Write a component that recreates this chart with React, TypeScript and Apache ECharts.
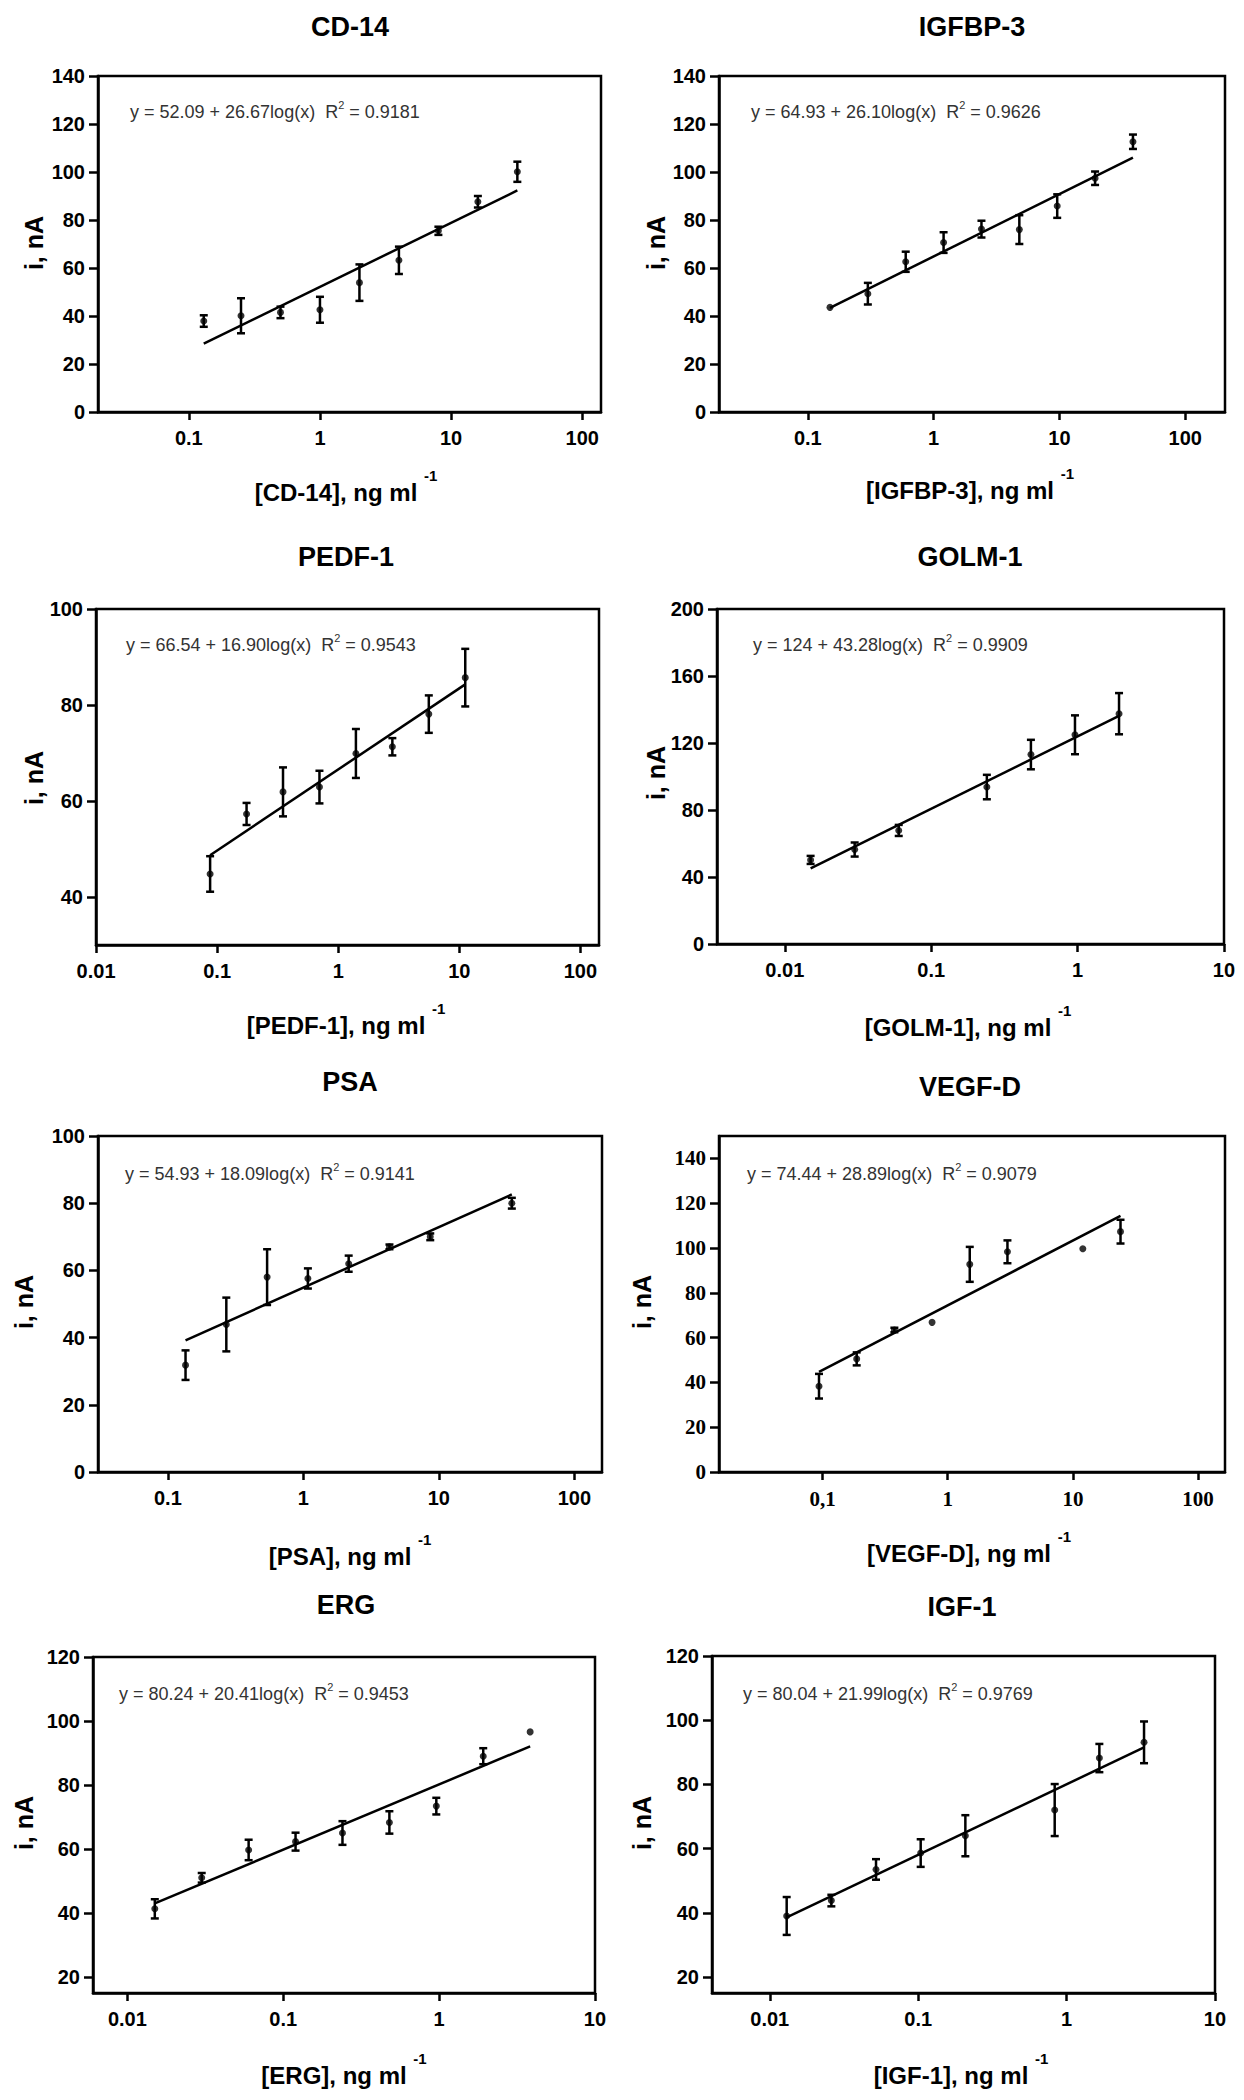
import React, { useEffect, useRef } from "react";
import * as echarts from "echarts";

// ---------------- data ----------------
// CD-14
const cd14Conc = [0.13, 0.25, 0.5, 1, 2, 4, 8, 16, 32];
const cd14Current = [37.9, 40.1, 41.5, 42.6, 53.9, 63.2, 75.5, 87.6, 100.1];
const cd14Sd = [2.4, 7.3, 2.4, 5.4, 7.6, 5.7, 1.7, 2.4, 4.2];
const cd14Fit = [28.5, 92.3];
// IGFBP-3
const igfbpConc = [0.15, 0.3, 0.6, 1.2, 2.4, 4.8, 9.6, 19.2, 38.4];
const igfbpCurrent = [43.6, 49.3, 62.6, 70.6, 76.2, 76.0, 85.8, 97.4, 112.6];
const igfbpSd = [0, 4.5, 4.2, 4.3, 3.5, 6.0, 4.9, 2.8, 3.0];
const igfbpFit = [43.4, 106.0];
// PEDF-1
const pedfConc = [0.0875, 0.175, 0.35, 0.7, 1.4, 2.8, 5.6, 11.2];
const pedfCurrent = [44.8, 57.3, 61.9, 62.9, 69.9, 71.3, 78.1, 85.7];
const pedfSd = [3.7, 2.3, 5.1, 3.4, 5.1, 1.8, 3.9, 6.0];
const pedfFit = [48.7, 84.3];
// GOLM-1
const golmConc = [0.015, 0.03, 0.06, 0.24, 0.48, 0.96, 1.92];
const golmCurrent = [50.2, 56.4, 67.8, 93.7, 113.1, 124.9, 137.5];
const golmSd = [2.4, 4.2, 3.3, 7.3, 8.8, 11.6, 12.3];
const golmFit = [45.1, 136.2];
// PSA
const psaConc = [0.135, 0.27, 0.54, 1.08, 2.16, 4.32, 8.64, 34.56];
const psaCurrent = [31.8, 43.9, 58.0, 57.6, 62.0, 67.0, 70.0, 80.0];
const psaSd = [4.4, 8.0, 8.3, 3.0, 2.4, 0.7, 1.0, 1.6];
const psaFit = [39.2, 82.6];
// VEGF-D
const vegfConc = [0.09375, 0.1875, 0.375, 0.75, 1.5, 3, 12, 24];
const vegfCurrent = [38.3, 50.5, 63.4, 66.8, 92.7, 98.3, 99.7, 107.3];
const vegfSd = [5.5, 2.9, 1.0, 0, 7.8, 5.1, 0, 5.3];
const vegfFit = [44.7, 114.3];
// ERG
const ergConc = [0.015, 0.03, 0.06, 0.12, 0.24, 0.48, 0.96, 1.92, 3.84];
const ergCurrent = [41.3, 51.0, 59.7, 62.3, 65.0, 68.3, 73.4, 89.0, 96.6];
const ergSd = [3.0, 1.5, 3.2, 2.8, 3.7, 3.5, 2.6, 2.5, 0];
const ergFit = [43.0, 92.1];
// IGF-1
const igf1Conc = [0.013, 0.026, 0.052, 0.104, 0.208, 0.832, 1.664, 3.328];
const igf1Current = [39.0, 43.8, 53.5, 58.6, 64.0, 72.0, 88.2, 93.1];
const igf1Sd = [5.9, 1.8, 3.2, 4.3, 6.4, 8.1, 4.4, 6.5];
const igf1Fit = [38.6, 91.5];

// tick values and labels
const xTicksTenth = [0.1, 1, 10, 100];
const xLabelsTenth = ["0.1", "1", "10", "100"];
const xLabelsTenthComma = ["0,1", "1", "10", "100"];
const xTicksHundredthTo100 = [0.01, 0.1, 1, 10, 100];
const xLabelsHundredthTo100 = ["0.01", "0.1", "1", "10", "100"];
const xTicksHundredthTo10 = [0.01, 0.1, 1, 10];
const xLabelsHundredthTo10 = ["0.01", "0.1", "1", "10"];
const yTicks0to140 = [0, 20, 40, 60, 80, 100, 120, 140];
const yTicks40to100 = [40, 60, 80, 100];
const yTicks0to200 = [0, 40, 80, 120, 160, 200];
const yTicks0to100 = [0, 20, 40, 60, 80, 100];
const yTicks20to120 = [20, 40, 60, 80, 100, 120];

// equations
const cd14Eq = ["y = 52.09 + 26.67log(x)  R", " = 0.9181"];
const igfbpEq = ["y = 64.93 + 26.10log(x)  R", " = 0.9626"];
const pedfEq = ["y = 66.54 + 16.90log(x)  R", " = 0.9543"];
const golmEq = ["y = 124 + 43.28log(x)  R", " = 0.9909"];
const psaEq = ["y = 54.93 + 18.09log(x)  R", " = 0.9141"];
const vegfEq = ["y = 74.44 + 28.89log(x)  R", " = 0.9079"];
const ergEq = ["y = 80.24 + 20.41log(x)  R", " = 0.9453"];
const igf1Eq = ["y = 80.04 + 21.99log(x)  R", " = 0.9769"];

const SANS = "'Liberation Sans', Arial, Helvetica, sans-serif";
const SERIF = "'Liberation Serif', 'Times New Roman', serif";

type Panel = {
  title: string;
  conc: number[];
  cur: number[];
  sd: number[];
  fit: number[];
  eq: string[];
  grid: [number, number, number, number];
  xMin: number;
  xMax: number;
  yMin: number;
  yMax: number;
  xTicks: number[];
  xLabels: string[];
  yTicks: number[];
  tickFont: string;
  titlePos: [number, number];
  eqPos: [number, number];
  yNamePos: [number, number];
  xNamePos: [number, number];
};

const panels: Panel[] = [
  {
    title: "CD-14", conc: cd14Conc, cur: cd14Current, sd: cd14Sd, fit: cd14Fit, eq: cd14Eq,
    grid: [98, 76, 503, 336], xMin: 0.0203, xMax: 139, yMin: 0, yMax: 140,
    xTicks: xTicksTenth, xLabels: xLabelsTenth, yTicks: yTicks0to140, tickFont: SANS,
    titlePos: [350, 27], eqPos: [130, 110], yNamePos: [34, 243], xNamePos: [346, 486],
  },
  {
    title: "IGFBP-3", conc: igfbpConc, cur: igfbpCurrent, sd: igfbpSd, fit: igfbpFit, eq: igfbpEq,
    grid: [719, 76, 506, 336], xMin: 0.01968, xMax: 207, yMin: 0, yMax: 140,
    xTicks: xTicksTenth, xLabels: xLabelsTenth, yTicks: yTicks0to140, tickFont: SANS,
    titlePos: [972, 27], eqPos: [751, 110], yNamePos: [656, 243], xNamePos: [970, 484],
  },
  {
    title: "PEDF-1", conc: pedfConc, cur: pedfCurrent, sd: pedfSd, fit: pedfFit, eq: pedfEq,
    grid: [96, 609, 503, 336], xMin: 0.00999, xMax: 142.5, yMin: 30, yMax: 100,
    xTicks: xTicksHundredthTo100, xLabels: xLabelsHundredthTo100, yTicks: yTicks40to100, tickFont: SANS,
    titlePos: [346, 557], eqPos: [126, 643], yNamePos: [34, 778], xNamePos: [346, 1019],
  },
  {
    title: "GOLM-1", conc: golmConc, cur: golmCurrent, sd: golmSd, fit: golmFit, eq: golmEq,
    grid: [717, 609, 507, 335], xMin: 0.00344, xMax: 10.01, yMin: 0, yMax: 200,
    xTicks: xTicksHundredthTo10, xLabels: xLabelsHundredthTo10, yTicks: yTicks0to200, tickFont: SANS,
    titlePos: [970, 557], eqPos: [753, 643], yNamePos: [656, 773], xNamePos: [968, 1021],
  },
  {
    title: "PSA", conc: psaConc, cur: psaCurrent, sd: psaSd, fit: psaFit, eq: psaEq,
    grid: [98, 1136, 504, 336], xMin: 0.0305, xMax: 160, yMin: 0, yMax: 100,
    xTicks: xTicksTenth, xLabels: xLabelsTenth, yTicks: yTicks0to100, tickFont: SANS,
    titlePos: [350, 1082], eqPos: [125, 1172], yNamePos: [24, 1302], xNamePos: [350, 1550],
  },
  {
    title: "VEGF-D", conc: vegfConc, cur: vegfCurrent, sd: vegfSd, fit: vegfFit, eq: vegfEq,
    grid: [719, 1136, 506, 336], xMin: 0.0149, xMax: 164, yMin: 0, yMax: 150,
    xTicks: xTicksTenth, xLabels: xLabelsTenthComma, yTicks: yTicks0to140, tickFont: SERIF,
    titlePos: [970, 1087], eqPos: [747, 1172], yNamePos: [642, 1302], xNamePos: [969, 1547],
  },
  {
    title: "ERG", conc: ergConc, cur: ergCurrent, sd: ergSd, fit: ergFit, eq: ergEq,
    grid: [93, 1657, 502, 336], xMin: 0.00602, xMax: 10.01, yMin: 15, yMax: 120,
    xTicks: xTicksHundredthTo10, xLabels: xLabelsHundredthTo10, yTicks: yTicks20to120, tickFont: SANS,
    titlePos: [346, 1605], eqPos: [119, 1692], yNamePos: [24, 1823], xNamePos: [344, 2069],
  },
  {
    title: "IGF-1", conc: igf1Conc, cur: igf1Current, sd: igf1Sd, fit: igf1Fit, eq: igf1Eq,
    grid: [712, 1656, 503, 337], xMin: 0.00408, xMax: 10.01, yMin: 15, yMax: 120,
    xTicks: xTicksHundredthTo10, xLabels: xLabelsHundredthTo10, yTicks: yTicks20to120, tickFont: SANS,
    titlePos: [962, 1607], eqPos: [743, 1692], yNamePos: [642, 1823], xNamePos: [961, 2069],
  },
];

function labelFor(v: number, ticks: number[], labels: string[]): string {
  for (let i = 0; i < ticks.length; i++) {
    if (Math.abs(Math.log10(v) - Math.log10(ticks[i])) < 0.01) return labels[i];
  }
  return "";
}

function buildOption() {
  const grids: any[] = [];
  const xAxes: any[] = [];
  const yAxes: any[] = [];
  const series: any[] = [];
  const graphics: any[] = [];
  const LW = 2.5;

  panels.forEach((p, i) => {
    const [l, t, w, h] = p.grid;
    const tickSize = p.tickFont === SERIF ? 21 : 20;
    grids.push({
      left: l, top: t, width: w, height: h,
      show: true, borderColor: "#000", borderWidth: LW,
      backgroundColor: "transparent", containLabel: false, outerBoundsMode: "none",
    });
    xAxes.push({
      type: "log", logBase: 10, gridIndex: i, min: p.xMin, max: p.xMax,
      axisLine: { show: true, onZero: false, lineStyle: { color: "#000", width: LW } },
      axisTick: { show: true, length: 8, customValues: p.xTicks, lineStyle: { color: "#000", width: LW } },
      axisLabel: {
        customValues: p.xTicks,
        formatter: (v: number) => labelFor(v, p.xTicks, p.xLabels),
        margin: 16, fontSize: tickSize, fontWeight: "bold",
        fontFamily: p.tickFont, color: "#000",
      },
      splitLine: { show: false },
      minorTick: { show: false },
    });
    yAxes.push({
      type: "value", gridIndex: i, min: p.yMin, max: p.yMax,
      axisLine: { show: true, onZero: false, lineStyle: { color: "#000", width: LW } },
      axisTick: { show: true, length: 9, customValues: p.yTicks, lineStyle: { color: "#000", width: LW } },
      axisLabel: {
        customValues: p.yTicks,
        margin: 13, fontSize: tickSize, fontWeight: "bold",
        fontFamily: p.tickFont, color: "#000",
      },
      splitLine: { show: false },
    });
    series.push({
      type: "custom",
      xAxisIndex: i, yAxisIndex: i,
      data: p.conc.map((c, j) => [c, p.cur[j], p.sd[j]]),
      encode: { x: 0, y: 1 },
      z: 2,
      renderItem: (params: any, api: any) => {
        const x = api.value(0);
        const y = api.value(1);
        const e = api.value(2);
        if (!e || e <= 0) return null;
        const top = api.coord([x, y + e]);
        const bot = api.coord([x, y - e]);
        const cw = 4;
        const st = { stroke: "#000", lineWidth: LW };
        return {
          type: "group",
          children: [
            { type: "line", shape: { x1: top[0], y1: top[1], x2: bot[0], y2: bot[1] }, style: st },
            { type: "line", shape: { x1: top[0] - cw, y1: top[1], x2: top[0] + cw, y2: top[1] }, style: st },
            { type: "line", shape: { x1: bot[0] - cw, y1: bot[1], x2: bot[0] + cw, y2: bot[1] }, style: st },
          ],
        };
      },
    });
    series.push({
      type: "scatter",
      xAxisIndex: i, yAxisIndex: i,
      data: p.conc.map((c, j) => [c, p.cur[j]]),
      symbol: "circle", symbolSize: 7,
      itemStyle: { color: "#000" },
      z: 3,
    });
    const n = p.conc.length;
    series.push({
      type: "line",
      xAxisIndex: i, yAxisIndex: i,
      data: [[p.conc[0], p.fit[0]], [p.conc[n - 1], p.fit[1]]],
      symbol: "none",
      lineStyle: { color: "#000", width: LW },
      silent: true,
      z: 4,
    });

    // title
    graphics.push({
      type: "text", x: p.titlePos[0], y: p.titlePos[1],
      style: {
        text: p.title, fontSize: 27, fontWeight: "bold", fontFamily: SANS, fill: "#000",
        align: "center", verticalAlign: "middle", textAlign: "center", textVerticalAlign: "middle",
      },
    });
    // equation
    graphics.push({
      type: "text", x: p.eqPos[0], y: p.eqPos[1],
      style: {
        text: `{a|${p.eq[0]}}{s|2}{a|${p.eq[1]}}`,
        rich: {
          a: { fontSize: 18, fontFamily: SANS, fill: "#333", lineHeight: 22, verticalAlign: "bottom" },
          s: { fontSize: 11, fontFamily: SANS, fill: "#333", lineHeight: 11, verticalAlign: "top" },
        },
        align: "left", verticalAlign: "middle", textAlign: "left", textVerticalAlign: "middle",
      },
    });
    // y axis name
    graphics.push({
      type: "text", x: p.yNamePos[0], y: p.yNamePos[1], rotation: Math.PI / 2,
      style: {
        text: "i, nA", fontSize: 25, fontWeight: "bold", fontFamily: SANS, fill: "#000",
        align: "center", verticalAlign: "middle", textAlign: "center", textVerticalAlign: "middle",
      },
    });
    // x axis name
    graphics.push({
      type: "text", x: p.xNamePos[0], y: p.xNamePos[1],
      style: {
        text: `{a|[${p.title}], ng ml }{s|-1}`,
        rich: {
          a: { fontSize: 24, fontWeight: "bold", fontFamily: SANS, fill: "#000", lineHeight: 36, verticalAlign: "bottom" },
          s: { fontSize: 15, fontWeight: "bold", fontFamily: SANS, fill: "#000", lineHeight: 15, verticalAlign: "top" },
        },
        align: "center", verticalAlign: "middle", textAlign: "center", textVerticalAlign: "middle",
      },
    });
  });

  return {
    animation: false,
    backgroundColor: "#fff",
    grid: grids,
    xAxis: xAxes,
    yAxis: yAxes,
    series,
    graphic: { elements: graphics },
  };
}

export default function App() {
  const ref = useRef<HTMLDivElement>(null);
  useEffect(() => {
    if (!ref.current) return;
    const chart = echarts.init(ref.current, undefined, { renderer: "svg" });
    chart.setOption(buildOption() as any);
    return () => chart.dispose();
  }, []);
  return (
    <div
      ref={ref}
      style={{ position: "absolute", left: 0, top: 0, width: 1244, height: 2100, background: "#fff" }}
    />
  );
}
